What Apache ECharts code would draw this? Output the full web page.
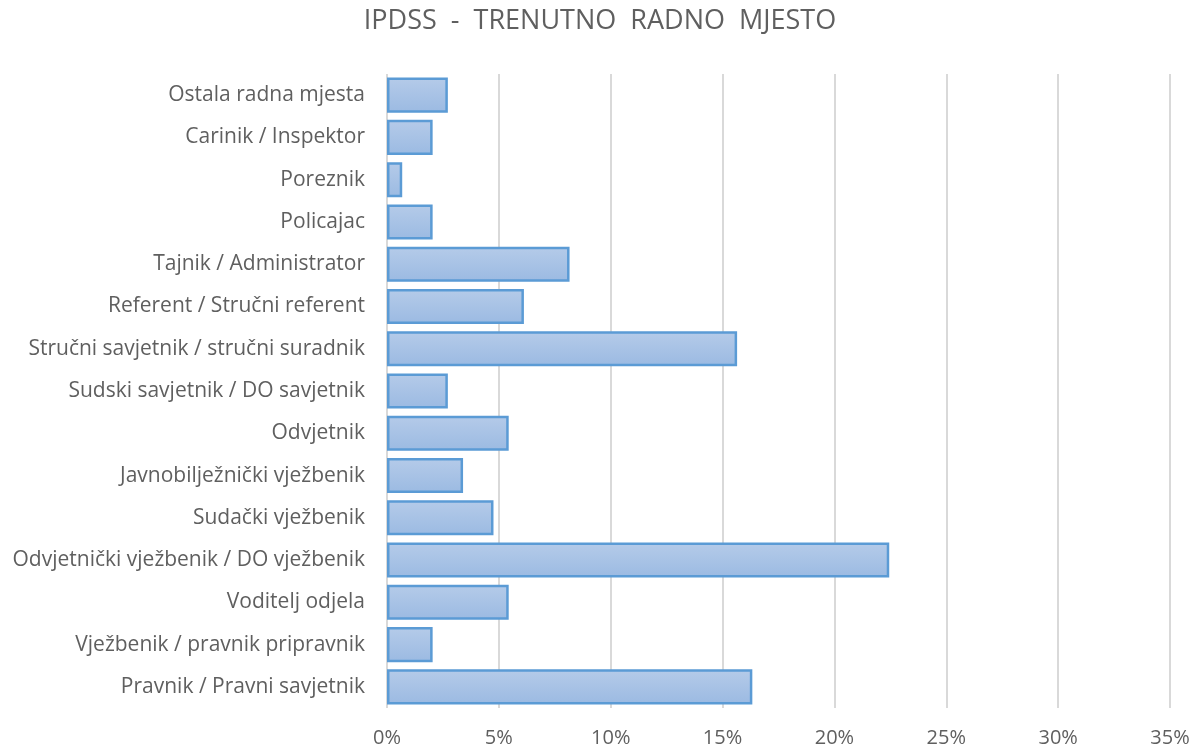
<!DOCTYPE html>
<html>
<head>
<meta charset="utf-8">
<script src="https://cdn.jsdelivr.net/npm/echarts@6/dist/echarts.min.js"></script>
<style>
  html, body { margin: 0; padding: 0; background: #fff; }
  #chart { width: 1200px; height: 751px; }
</style>
</head>
<body>
<div id="chart"></div>
<script>
// kategorije odozdo prema gore
const categories = [
  'Pravnik / Pravni savjetnik',
  'Vježbenik / pravnik pripravnik',
  'Voditelj odjela',
  'Odvjetnički vježbenik / DO vježbenik',
  'Sudački vježbenik',
  'Javnobilježnički vježbenik',
  'Odvjetnik',
  'Sudski savjetnik / DO savjetnik',
  'Stručni savjetnik / stručni suradnik',
  'Referent / Stručni referent',
  'Tajnik / Administrator',
  'Policajac',
  'Poreznik',
  'Carinik / Inspektor',
  'Ostala radna mjesta'
];
// udio u postocima
const shares = [16.33, 2.04, 5.44, 22.45, 4.76, 3.40, 5.44, 2.72, 15.65, 6.12, 8.16, 2.04, 0.68, 2.04, 2.72];

const chart = echarts.init(document.getElementById('chart'));
const font = 'Open Sans, sans-serif';

chart.setOption({
  animation: false,
  title: {
    text: 'IPDSS  -  TRENUTNO  RADNO  MJESTO',
    left: 'center',
    top: 3,
    textStyle: { color: '#5f5f5f', fontSize: 27, fontWeight: 'normal', fontFamily: font }
  },
  grid: { left: 387, right: 30, top: 74, bottom: 43, containLabel: false },
  xAxis: {
    type: 'value',
    min: 0,
    max: 35,
    interval: 5,
    axisLine: { show: false },
    axisTick: { show: false },
    axisLabel: {
      formatter: '{value}%',
      color: '#5f5f5f',
      fontSize: 20,
      fontFamily: font,
      margin: 20
    },
    splitLine: { lineStyle: { color: '#d9d9d9', width: 2 } }
  },
  yAxis: {
    type: 'category',
    data: categories,
    axisLine: { show: false },
    axisTick: { show: false },
    axisLabel: { color: '#5f5f5f', fontSize: 21, fontFamily: font, margin: 22 }
  },
  series: [{
    type: 'bar',
    data: shares,
    barCategoryGap: '17%',
    itemStyle: {
      color: new echarts.graphic.LinearGradient(0, 0, 0, 1, [
        { offset: 0, color: '#b5cbe9' },
        { offset: 1, color: '#9bbae2' }
      ]),
      borderColor: '#5b9bd5',
      borderWidth: 2.5
    }
  }]
});
</script>
</body>
</html>
